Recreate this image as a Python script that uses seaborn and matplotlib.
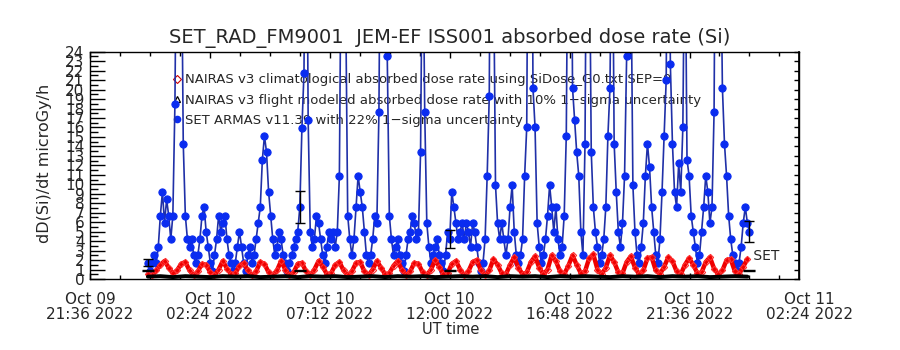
import numpy as np
import pandas as pd
import matplotlib
matplotlib.use("Agg")
import matplotlib.pyplot as plt
import matplotlib.dates as mdates
import matplotlib.transforms as mtransforms
from matplotlib.lines import Line2D
from matplotlib.ticker import FixedLocator, FuncFormatter, MultipleLocator
import seaborn as sns

# ---------------- data ----------------
set_start = "2022-10-09 23:55"
set_step = "5min"
set_vals = [
    1.7, 0.8, 1.7, 2.5, 1.7, 3.4, 6.7, 9.2, 5.9, 8.4,
    6.7, 4.2, 6.7, 18.5, 45.0, 60.0, 40.0, 14.3, 6.7, 4.2,
    3.4, 4.2, 2.5, 1.7, 2.5, 4.2, 6.7, 7.6, 5.0, 3.4,
    1.7, 0.8, 2.5, 4.2, 6.7, 5.0, 5.9, 6.7, 4.2, 2.5,
    1.7, 0.8, 1.7, 3.4, 5.0, 3.4, 1.7, 0.8, 2.5, 3.4,
    1.7, 2.5, 4.2, 5.9, 7.6, 12.6, 15.1, 13.4, 9.2, 6.7,
    4.2, 2.5, 3.4, 5.0, 4.2, 2.5, 1.7, 0.8, 1.7, 2.5,
    3.4, 4.2, 5.0, 7.6, 15.9, 21.8, 55.0, 16.8, 5.0, 3.4,
    4.2, 6.7, 5.9, 4.2, 2.5, 1.7, 3.4, 5.0, 4.2, 5.0,
    3.4, 5.0, 10.9, 40.0, 48.0, 30.0, 6.7, 4.2, 2.5, 4.2,
    7.6, 10.9, 9.2, 7.6, 5.0, 2.5, 1.7, 2.5, 4.2, 6.7,
    5.9, 17.6, 50.0, 65.0, 45.0, 23.5, 6.7, 4.2, 2.5, 3.4,
    4.2, 2.5, 1.7, 0.8, 2.5, 4.2, 5.0, 6.7, 5.9, 4.2,
    5.0, 13.4, 40.0, 17.6, 5.9, 3.4, 1.7, 2.5, 3.4, 4.2,
    2.5, 1.7, 0.8, 2.5, 5.0, 4.2, 9.2, 7.6, 5.9, 4.2,
    5.0, 5.9, 4.2, 5.9, 5.0, 3.4, 5.9, 5.0, 3.4, 1.7,
    0.8, 1.7, 4.2, 10.9, 19.3, 60.0, 35.0, 9.9, 5.9, 4.2,
    5.9, 4.2, 2.5, 4.2, 7.6, 9.9, 5.0, 2.5, 1.7, 2.5,
    4.2, 10.9, 16.0, 55.0, 70.0, 20.2, 16.0, 5.9, 3.4, 1.7,
    2.5, 4.2, 6.7, 9.9, 7.6, 5.0, 7.6, 4.2, 2.5, 3.4,
    6.7, 15.1, 45.0, 60.0, 20.2, 16.8, 13.4, 10.9, 5.0, 2.5,
    14.3, 50.0, 40.0, 13.4, 7.6, 5.0, 3.4, 1.7, 2.5, 4.2,
    7.6, 15.1, 20.2, 45.0, 14.3, 9.2, 5.0, 3.4, 5.9, 10.9,
    23.5, 60.0, 35.0, 9.9, 5.0, 2.5, 1.7, 3.4, 5.9, 10.9,
    14.3, 11.8, 7.6, 5.0, 2.5, 1.7, 4.2, 9.2, 15.1, 21.0,
    55.0, 22.7, 14.3, 9.2, 7.6, 12.2, 9.2, 16.0, 40.0, 12.6,
    10.9, 6.7, 5.0, 3.4, 1.7, 2.5, 5.0, 7.6, 10.9, 9.2,
    5.9, 7.6, 17.6, 55.0, 70.0, 40.0, 20.2, 14.3, 10.9, 6.7,
    4.2, 2.5, 1.7, 0.8, 1.7, 3.4, 5.9, 7.6, 5.9, 5.0,
]

clim_start = "2022-10-09 23:55"
clim_step = "10min"
clim_vals = [
    0.5, 0.4, 0.9, 1.5, 1.9, 1.2, 0.6, 0.9, 1.6, 1.8,
    0.9, 0.4, 0.8, 1.6, 1.5, 0.7, 0.4, 1.0, 1.9, 1.1,
    0.5, 0.6, 1.4, 1.7, 0.9, 0.4, 0.8, 1.8, 1.6, 0.7,
    0.4, 0.9, 1.9, 1.0, 0.4, 0.7, 1.6, 1.7, 0.8, 0.4,
    1.0, 1.9, 1.3, 0.5, 0.6, 1.5, 1.8, 0.9, 0.4, 0.8,
    1.7, 1.8, 0.8, 0.4, 1.0, 1.9, 1.2, 0.5, 0.6, 1.4,
    1.9, 1.0, 0.4, 0.8, 1.7, 1.6, 0.7, 0.4, 1.0, 2.0,
    1.3, 0.5, 0.6, 1.6, 1.9, 1.0, 0.4, 0.8, 1.8, 2.0,
    0.9, 0.4, 0.9, 2.1, 1.5, 0.6, 0.5, 1.5, 2.3, 1.2,
    0.5, 0.7, 1.8, 2.4, 1.2, 0.5, 1.0, 2.5, 1.9, 0.8,
    0.5, 1.4, 2.5, 1.5, 0.6, 0.8, 2.2, 2.6, 1.0, 0.5,
    1.2, 2.5, 1.8, 0.7, 0.6, 1.8, 2.4, 1.2, 0.5, 0.9,
    2.2, 2.3, 0.9, 0.5, 1.3, 2.3, 1.9, 0.8, 0.5, 1.5,
    2.2, 1.5, 0.6, 0.7, 1.8, 2.3, 1.1, 0.5, 0.9, 2.0,
    2.1, 0.8, 0.5, 1.3, 2.1,
]

flight_start = "2022-10-09 23:55"
flight_step = "30min"
flight_vals = [
    0.25, 0.3, 0.2, 0.3, 0.25, 0.2, 0.3, 0.25, 0.3, 0.2,
    0.25, 0.3, 0.2, 0.3, 0.25, 0.3, 0.2, 0.25, 0.3, 0.2,
    0.3, 0.25, 0.3, 0.2, 0.25, 0.3, 0.25, 0.3, 0.2, 0.3,
    0.25, 0.3, 0.2, 0.3, 0.25, 0.3, 0.25, 0.2, 0.3, 0.25,
    0.3, 0.2, 0.3, 0.25, 0.3, 0.2, 0.25, 0.3, 0.25,
]

err_idx = [0, 73, 145, 289]          # SET samples with error bars
set_err_frac = 0.22
flight_bar_vals = [0.9, 0.9, 0.9, 0.9]
flight_err_frac = 0.10

x_tick_times = ["2022-10-09 21:36", "2022-10-10 02:24", "2022-10-10 07:12",
                "2022-10-10 12:00", "2022-10-10 16:48", "2022-10-10 21:36"]
x_last_label_time = "2022-10-11 02:24"
x_start = "2022-10-09 21:36"
x_end = "2022-10-11 01:59"

title = "SET_RAD_FM9001  JEM-EF ISS001 absorbed dose rate (Si)"
legend_labels = [
    "NAIRAS v3 climatological absorbed dose rate using SiDose_G0.txt SEP=0",
    "NAIRAS v3 flight modeled absorbed dose rate with 10% 1\u2212sigma uncertainty",
    "SET ARMAS v11.39 with 22% 1\u2212sigma uncertainty",
]

# ---------------- frames ----------------
df_set = pd.DataFrame({"time": pd.date_range(set_start, periods=len(set_vals), freq=set_step),
                       "dose": set_vals})
df_clim = pd.DataFrame({"time": pd.date_range(clim_start, periods=len(clim_vals), freq=clim_step),
                        "dose": clim_vals})
df_flight = pd.DataFrame({"time": pd.date_range(flight_start, periods=len(flight_vals), freq=flight_step),
                          "dose": flight_vals})

sns.set_theme(style="white")
plt.rcParams['font.family'] = ['DejaVu Sans']

fig = plt.figure(figsize=(9, 3.5), dpi=100)
ax = fig.add_axes([90 / 900, 1 - 279 / 350, (799 - 90) / 900, (279 - 51.7) / 350])

blue_line = "#2030a8"
blue_mark = "#0a2cf0"
sns.lineplot(data=df_set, x="time", y="dose", ax=ax, estimator=None, sort=False,
             color=blue_line, lw=1.2, marker="o", markersize=5.2,
             markerfacecolor=blue_mark, markeredgecolor=blue_mark, zorder=2)
sns.lineplot(data=df_clim, x="time", y="dose", ax=ax, estimator=None, sort=False,
             color="#ee0000", lw=3.2, marker="D", markersize=3.2,
             markerfacecolor="none", markeredgecolor="#ff3030", markeredgewidth=0.8, zorder=3)
sns.lineplot(data=df_flight, x="time", y="dose", ax=ax, estimator=None, sort=False,
             color="black", lw=2.8, zorder=4)

et = df_set["time"].iloc[err_idx]
ev = df_set["dose"].iloc[err_idx].to_numpy()
ax.errorbar(et, ev, yerr=ev * set_err_frac, fmt="none", ecolor="black",
            elinewidth=1.0, capsize=3.5, capthick=1.0, zorder=5)
fb = np.array(flight_bar_vals)
ax.errorbar(et, fb, yerr=fb * flight_err_frac, fmt="none", ecolor="black",
            elinewidth=1.0, capsize=4, capthick=1.0, zorder=5)
ax.text(df_set["time"].iloc[-1], 2.4, " SET", fontsize=10, ha="left", va="center", zorder=6)

# ---------------- axes ----------------
x0 = mdates.date2num(pd.Timestamp(x_start))
x1 = mdates.date2num(pd.Timestamp(x_end))
ax.set_xlim(x0, x1)
ax.set_ylim(0, 24)

major_x = [mdates.date2num(pd.Timestamp(t)) for t in x_tick_times]
ax.xaxis.set_major_locator(FixedLocator(major_x))
ax.xaxis.set_minor_locator(MultipleLocator(1.2 / 24))
ax.xaxis.set_major_formatter(FuncFormatter(
    lambda v, p: mdates.num2date(v).strftime("%b %d\n%H:%M %Y")))
ax.yaxis.set_major_locator(MultipleLocator(1))
ax.yaxis.set_minor_locator(MultipleLocator(0.5))

ax.tick_params(axis="x", which="both", direction="in", top=True, bottom=True,
               color="black", labelsize=11, pad=9)
ax.tick_params(axis="x", which="major", length=4, width=1)
ax.tick_params(axis="x", which="minor", length=3, width=1)
ax.tick_params(axis="y", which="both", direction="in", left=True, right=False,
               color="black", labelsize=11, pad=4)
ax.tick_params(axis="y", which="major", length=10.8, width=1)
ax.tick_params(axis="y", which="minor", length=5.8, width=1)
for lab in ax.get_xticklabels():
    lab.set_linespacing(1.05)

ax2 = ax.secondary_yaxis("right")
ax2.yaxis.set_major_locator(MultipleLocator(1))
ax2.tick_params(axis="y", direction="in", length=3.6, width=1, color="black", labelright=False)
ax2.spines["right"].set_color("black")

# last x label lies beyond the plotted range
off = mtransforms.ScaledTranslation(0, -9 / 72, fig.dpi_scale_trans)
ax.text(mdates.date2num(pd.Timestamp(x_last_label_time)), 0,
        pd.Timestamp(x_last_label_time).strftime("%b %d\n%H:%M %Y"),
        transform=ax.get_xaxis_transform() + off, ha="center", va="top",
        fontsize=11, linespacing=1.05, clip_on=False)

for s in ax.spines.values():
    s.set_color("black")
    s.set_linewidth(1.0)

ax.set_xlabel("UT time", fontsize=10.5)
ax.xaxis.set_label_coords((451 - 90) / 709, (279 - 330) / 227.3)
ax.xaxis.label.set_va("center")
ax.set_ylabel("dD(Si)/dt microGy/h", fontsize=11.5)
ax.yaxis.set_label_coords((45 - 90) / 709, 0.51)
ax.yaxis.label.set_va("center")

fig.text(0.5, 1 - 38 / 350, title, ha="center", va="center", fontsize=14)

handles = [
    Line2D([], [], ls="none", marker="D", ms=4, mfc="none", mec="#cc0000", mew=0.8),
    Line2D([], [], ls="none", marker="^", ms=5, mfc="none", mec="black", mew=0.9),
    Line2D([], [], ls="none", marker="o", ms=4.5, mfc=blue_mark, mec=blue_mark),
]
leg = ax.legend(handles, legend_labels, loc="upper left", bbox_to_anchor=(0.118, 0.905),
                frameon=False, fontsize=9.5, handlelength=0.5, handletextpad=0.35,
                labelspacing=0.55, borderpad=0, borderaxespad=0)
leg.set_zorder(1.5)

fig.savefig("out.png", dpi=100)
